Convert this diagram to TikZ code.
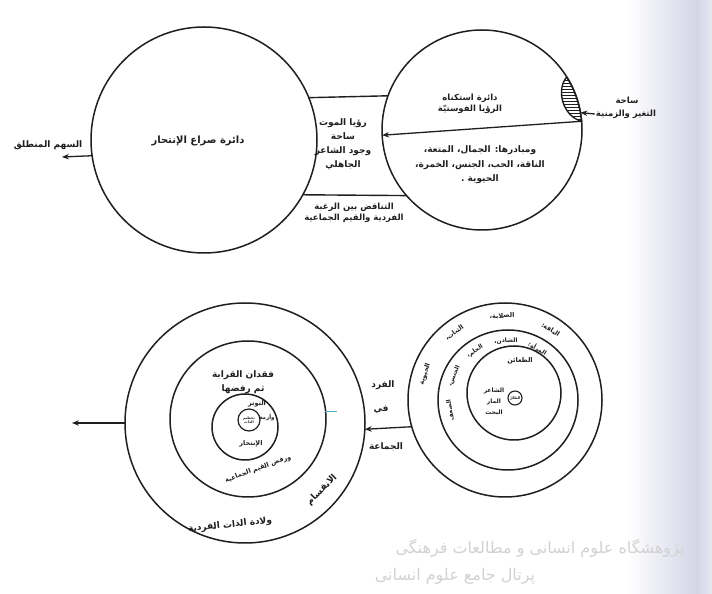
\documentclass[tikz,border=0pt]{standalone}
\usepackage{fontspec}
\usetikzlibrary{arrows.meta,patterns}
\newfontfamily\arabicfont[Script=Arabic]{DejaVu Sans}
\TeXXeTstate=1
\definecolor{Ink}{HTML}{1F1F1F}
\definecolor{Haze}{HTML}{D3D5E7}
\definecolor{HazeEdge}{HTML}{E8E8F0}
\definecolor{Streak}{HTML}{4FB0C6}
\definecolor{Mark}{HTML}{D2D2D2}
\newcommand{\artxt}[1]{\beginR #1\endR}
\tikzset{
  ring/.style={circle, draw=Ink, line width=1.5pt, inner sep=0pt, outer sep=0pt},
  note/.style={font=\arabicfont\bfseries\fontsize{9}{14}\selectfont, text=Ink, inner sep=1pt, align=center},
  smallnote/.style={note, font=\arabicfont\bfseries\fontsize{6.5}{9}\selectfont},
  corenote/.style={note, font=\arabicfont\bfseries\fontsize{3.6}{4.2}\selectfont},
  watermark/.style={font=\arabicfont\fontsize{16}{18}\selectfont, text=Mark},
  flow/.style={-{Stealth[length=2.4mm,width=1.9mm]}, line width=1.3pt, draw=Ink},
  divider/.style={line width=1.4pt, draw=Ink}
}
\begin{document}
\begin{tikzpicture}[x=1pt,y=1pt]
  \useasboundingbox (0,0) rectangle (712,594);
  \fill[white] (0,0) rectangle (712,594);
  \shade[left color=white,right color=Haze] (628,0) rectangle (697,594);
  \shade[left color=Haze,right color=HazeEdge] (697,0) rectangle (712,594);
  \node[watermark] (wmA) at (540,46) {\artxt{پژوهشگاه علوم انسانی و مطالعات فرهنگی}};
  \node[watermark] (wmB) at (455,18) {\artxt{پرتال جامع علوم انسانی}};

  % upper pair
  \node[ring,minimum size=226pt] (cA) at (204,454) {};
  \node[ring,minimum size=200pt] (cB) at (482,464) {};
  \draw[divider] (cA.22.4) -- (cB.160.7);
  \draw[divider] (cA.-29.7) -- (cB.221.3);
  \draw[flow] (cB.5) -- (cB.183);
  \draw[divider,pattern=horizontal lines,pattern color=Ink] (cB.32) arc[start angle=32,end angle=5,radius=100]
    .. controls (562,478) and (556,505) .. (cB.32);

  \node[note,font=\arabicfont\bfseries\fontsize{10}{12}\selectfont] (cAText) at (198,453) {\artxt{دائرة صراع الإنتحار}};
  \node[note] (lTag) at (48,449) {\artxt{السهم المنطلق}};
  \coordinate (lTip) at (62,437);
  \draw[flow] (cA.188.7) -- (lTip);

  \node[note] (midTop) at (343,450) {\artxt{رؤيا الموت}\\\artxt{ساحة}\\\artxt{وجود الشاعر}\\\artxt{الجاهلي}};
  \node[note,font=\arabicfont\bfseries\fontsize{8.5}{11.5}\selectfont] (midBot) at (354,381)
    {\artxt{التناقض بين الرغبة}\\\artxt{الفردية والقيم الجماعية}};

  \node[note,font=\arabicfont\bfseries\fontsize{8.5}{11.5}\selectfont] (cBTitle) at (470,490)
    {\artxt{دائرة استكناه}\\\artxt{الرؤيا الفوستيّة}};
  \node[note,font=\arabicfont\bfseries\fontsize{9}{14.5}\selectfont] (cBList) at (480,429)
    {\artxt{ومبادرها: الجمال، المتعة،}\\\artxt{الناقة، الحب، الجنس، الخمرة،}\\\artxt{الحيوية .}};

  \node[note,font=\arabicfont\bfseries\fontsize{8.5}{10}\selectfont] (rTop) at (627,494) {\artxt{ساحة}};
  \node[note,font=\arabicfont\bfseries\fontsize{8.5}{10}\selectfont] (rBot) at (626,480) {\artxt{التغير والزمنية}};
  \draw[flow] (rBot.west) -- (cB.10);

  % lower pair
  \node[ring,minimum size=240pt] (cC) at (245,171) {};
  \node[ring,minimum size=156pt] (cCmid) at (248,175) {};
  \node[ring,minimum size=66pt] (cCin) at (245,167) {};
  \node[ring,minimum size=22pt,line width=1.2pt] (cCcore) at (249,174) {};

  \node[note] (cCtop) at (243,212) {\artxt{فقدان القرابة}\\\artxt{ثم رفضها}};
  \node[smallnote] (cCtense) at (257,190) {\artxt{التوتر}};
  \node[corenote] (cCcoreText) at (249,174) {\artxt{تحطيم}\\\artxt{الذات}};
  \node[smallnote,font=\arabicfont\bfseries\fontsize{5.5}{7}\selectfont] (cCcrisis) at (267,177) {\artxt{وأزمة}};
  \node[smallnote] (cCsuicide) at (251,150) {\artxt{الإنتحار}};
  \node[smallnote,rotate=20] (cCreject) at (258,125) {\artxt{ورفض القيم الجماعية}};
  \node[note,rotate=45] (cCsplit) at (322,104) {\artxt{الانقسام}};
  \node[note,rotate=6] (cCbirth) at (230,69) {\artxt{ولادة الذات الفردية}};

  \node[note] (gA) at (383,209) {\artxt{الفرد}};
  \node[note] (gB) at (381,184) {\artxt{في}};
  \node[note] (gC) at (386,147) {\artxt{الجماعة}};
  \draw[Streak,line width=1pt] (325,182) -- (337,182);

  \node[ring,minimum size=194pt] (cD) at (505,194) {};
  \node[ring,minimum size=140pt] (cDmid) at (508,194) {};
  \node[ring,minimum size=94pt] (cDin) at (514,201) {};
  \node[ring,minimum size=14pt,line width=1.1pt] (cDcore) at (515,196) {};
  \node[corenote] (cDcoreText) at (515,196) {\artxt{الطلل}};

  \foreach \ang/\word [count=\i] in {57/{الناقة:},92/{الصلابة،},127/{الثبات،},162/{الحيوية}}
    \node[smallnote,rotate=\ang-90] (cDw\i) at ([shift={(\ang:84)}]cD.center) {\artxt{\word}};
  \foreach \ang/\word [count=\i] in {60/{المرأة:},92/{الشادن،},124/{الحلم،},156/{الجنس،},190/{الضعف}}
    \node[smallnote,font=\arabicfont\bfseries\fontsize{6}{8}\selectfont,rotate=\ang-90] (cDm\i)
      at ([shift={(\ang:59)}]cDmid.center) {\artxt{\word}};

  \node[smallnote] (cDtrail) at (520,233) {\artxt{الظعائن}};
  \node[smallnote,font=\arabicfont\bfseries\fontsize{6}{11}\selectfont] (cDpoet) at (494,192)
    {\artxt{الشاعر}\\\artxt{المار}\\\artxt{البحث}};

  \draw[flow] (cD.196.8) -- (cC.-3.5);
  \coordinate (cCout) at (72,171);
  \draw[flow] (cC.180) -- (cCout);
\end{tikzpicture}
\end{document}
